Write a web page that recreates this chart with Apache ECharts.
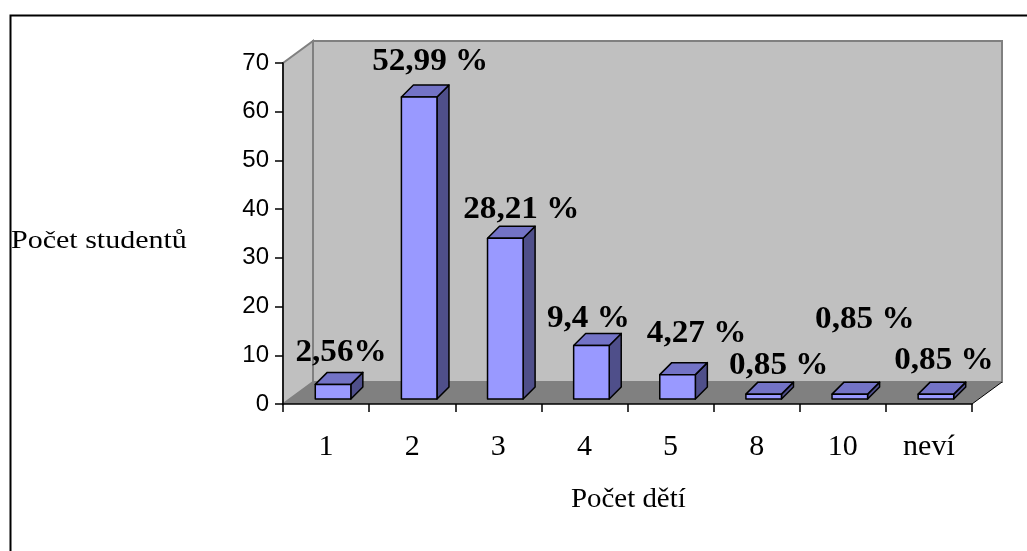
<!DOCTYPE html>
<html>
<head>
<meta charset="utf-8">
<script src="https://cdn.jsdelivr.net/npm/echarts@6/dist/echarts.min.js"></script>
<style>
  html, body { margin: 0; padding: 0; background: #fff; }
  #chart { width: 1027px; height: 551px; }
</style>
</head>
<body>
<div id="chart"></div>
<script>
// počet dětí -> počet studentů (117 celkem)
const categories = ["1", "2", "3", "4", "5", "8", "10", "neví"];
const students = [3, 62, 33, 11, 5, 1, 1, 1];
const percentLabels = ["2,56%", "52,99 %", "28,21 %", "9,4 %", "4,27 %", "0,85 %", "0,85 %", "0,85 %"];
const yTicks = { min: 0, max: 70, interval: 10 };

// posun popisků (jak je Excel poskládal)
const labelNudge = [[2, -25], [5, -29], [10, -22], [-9, -20], [13, -35], [9, -22], [9, -68], [2, -27]];

const DEPTH = [30, -22];     // hloubka krabice
const BAR_SHIFT = [7, -5];   // předek sloupce uvnitř krabice
const BAR_DEPTH = [12, -12];
const SERIF = "'Liberation Serif', 'Times New Roman', serif";

const chart = echarts.init(document.getElementById("chart"));

function renderWalls(params, api) {
  const c = params.coordSys;
  const x = c.x, y = c.y, w = c.width, h = c.height;
  const dx = DEPTH[0], dy = DEPTH[1];
  return {
    type: "group",
    children: [
      { type: "polygon", shape: { points: [[x, y], [x + dx, y + dy], [x + dx, y + h + dy], [x, y + h]] },
        style: { fill: "#C0C0C0", stroke: "#808080", lineWidth: 2 } },
      { type: "rect", shape: { x: x + dx, y: y + dy, width: w, height: h },
        style: { fill: "#C0C0C0", stroke: "#808080", lineWidth: 2 } },
      { type: "polygon", shape: { points: [[x, y + h], [x + dx, y + h + dy], [x + w + dx, y + h + dy], [x + w, y + h]] },
        style: { fill: "#808080" } },
      { type: "line", shape: { x1: x + w, y1: y + h, x2: x + w + dx, y2: y + h + dy },
        style: { stroke: "#000", lineWidth: 1 } }
    ]
  };
}

function renderBar(params, api) {
  const i = api.value(0);
  const v = api.value(1);
  const band = api.size([1, 0])[0];
  const base = api.coord([i, 0]);
  const top = api.coord([i, v]);
  const w = band * 0.413;
  const x0 = base[0] + BAR_SHIFT[0] - w / 2;
  const x1 = x0 + w;
  const yb = base[1] + BAR_SHIFT[1];
  const yt = top[1] + BAR_SHIFT[1];
  const bx = BAR_DEPTH[0], by = BAR_DEPTH[1];
  const edge = { stroke: "#000", lineWidth: 1.5, lineJoin: "round" };
  const nudge = labelNudge[i];
  return {
    type: "group",
    children: [
      { type: "polygon", shape: { points: [[x1, yt], [x1 + bx, yt + by], [x1 + bx, yb + by], [x1, yb]] },
        style: Object.assign({ fill: "#4F4F8A" }, edge) },
      { type: "polygon", shape: { points: [[x0, yt], [x0 + bx, yt + by], [x1 + bx, yt + by], [x1, yt]] },
        style: Object.assign({ fill: "#7373C6" }, edge) },
      { type: "rect", shape: { x: x0, y: yt, width: w, height: yb - yt },
        style: Object.assign({ fill: "#9999FF" }, edge) },
      { type: "text",
        x: (x0 + x1) / 2 + bx / 2 + nudge[0],
        y: yt + by / 2 + nudge[1],
        scaleX: 1.07,
        style: {
          text: percentLabels[i],
          fill: "#000",
          font: "bold 31px " + SERIF,
          align: "center",
          verticalAlign: "middle"
        } }
    ]
  };
}

const option = {
  animation: false,
  backgroundColor: "#fff",
  grid: { left: 283, right: 55, top: 63, bottom: 147 },
  xAxis: {
    type: "category",
    data: categories,
    z: 5,
    axisLine: { lineStyle: { color: "#000", width: 1.5 } },
    axisTick: { show: true, length: 8, lineStyle: { color: "#000", width: 1.5 } },
    axisLabel: {
      color: "#000",
      fontFamily: SERIF,
      fontSize: 30,
      margin: 28
    },
    splitLine: { show: false }
  },
  yAxis: {
    type: "value",
    min: yTicks.min,
    max: yTicks.max,
    interval: yTicks.interval,
    z: 5,
    axisLine: { show: true, lineStyle: { color: "#000", width: 1.5 } },
    axisTick: { show: true, length: 8, lineStyle: { color: "#000", width: 1.5 } },
    axisLabel: {
      color: "#000",
      fontFamily: "'Liberation Sans', Arial, sans-serif",
      fontSize: 24,
      margin: 14
    },
    splitLine: { show: false }
  },
  graphic: [
    { type: "rect", left: 8, top: 13, z: -10, silent: true,
      shape: { width: 1100, height: 700 },
      style: { fill: "none", stroke: "#000", lineWidth: 2 } },
    { type: "text", left: 11, top: 229, scaleX: 1.2,
      style: { text: "Počet studentů", fill: "#000", font: "25px " + SERIF } },
    { type: "text", left: 571, top: 486, scaleX: 1.07,
      style: { text: "Počet dětí", fill: "#000", font: "27px " + SERIF } }
  ],
  series: [
    {
      type: "custom",
      z: 1,
      silent: true,
      renderItem: renderWalls,
      data: [[0, 0]]
    },
    {
      type: "custom",
      z: 3,
      renderItem: renderBar,
      encode: { x: 0, y: 1 },
      data: students.map((v, i) => [i, v])
    }
  ]
};

chart.setOption(option);
</script>
</body>
</html>
